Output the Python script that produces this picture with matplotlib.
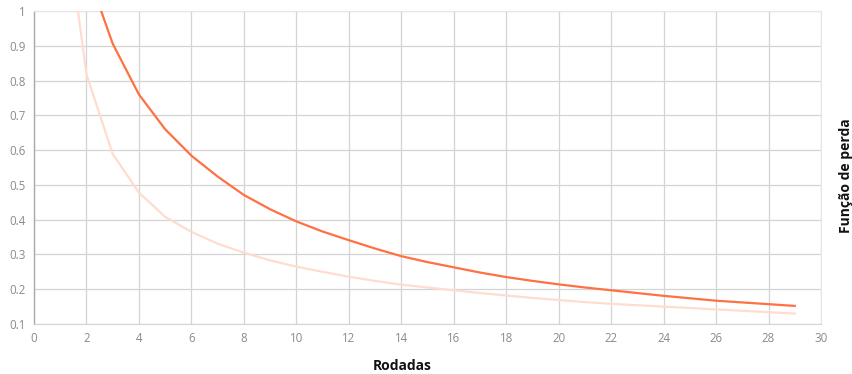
import matplotlib
matplotlib.use("Agg")
import matplotlib.pyplot as plt

# rounds and loss values
rodadas = list(range(1, 30))
perda_a = [1.45, 1.12, 0.906, 0.76, 0.66, 0.584, 0.524, 0.471, 0.43, 0.395,
           0.366, 0.341, 0.317, 0.295, 0.278, 0.263, 0.248, 0.235, 0.224, 0.214,
           0.205, 0.197, 0.189, 0.181, 0.174, 0.167, 0.162, 0.157, 0.152]
perda_b = [1.38, 0.818, 0.589, 0.478, 0.408, 0.365, 0.331, 0.305, 0.283, 0.265,
           0.25, 0.236, 0.224, 0.213, 0.205, 0.197, 0.189, 0.182, 0.175, 0.169,
           0.163, 0.158, 0.154, 0.15, 0.146, 0.142, 0.138, 0.134, 0.13]
xticks = list(range(0, 31, 2))
yticks = [0.1, 0.2, 0.3, 0.4, 0.5, 0.6, 0.7, 0.8, 0.9, 1]
ytick_labels = ["0.1", "0.2", "0.3", "0.4", "0.5", "0.6", "0.7", "0.8", "0.9", "1"]

plt.rcParams['font.family'] = ['Open Sans', 'DejaVu Sans']

fig = plt.figure(figsize=(8.53, 3.74), dpi=100)
ax = fig.add_axes([34 / 853, 1 - 324 / 374, (821 - 34) / 853, (324 - 11) / 374])

ax.plot(rodadas, perda_b, color='#ffdcd0', lw=1.6, zorder=3)
ax.plot(rodadas, perda_a, color='#ff7043', lw=1.6, zorder=4)

ax.set_xlim(0, 30)
ax.set_ylim(0.1, 1)
ax.set_xticks(xticks)
ax.set_xticklabels([str(t) for t in xticks])
ax.set_yticks(yticks)
ax.set_yticklabels(ytick_labels)
ax.tick_params(length=0, colors='#8a8a8a', labelsize=8.3)
ax.tick_params(axis='x', pad=6)
ax.tick_params(axis='y', pad=6)

ax.grid(True, color='#d4d4d4', lw=0.9)
ax.set_axisbelow(True)
for side in ['top', 'right', 'bottom']:
    ax.spines[side].set_color('#e6e6e6')
    ax.spines[side].set_linewidth(0.8)
ax.spines['bottom'].set_color('#d4d4d4')
ax.spines['left'].set_color('#aaaaaa')
ax.spines['left'].set_linewidth(1.0)

fig.text(402 / 853, 1 - 366 / 374, 'Rodadas', ha='center', va='center',
         fontsize=10, fontweight='bold', color='#111111')
fig.text(846 / 853, 1 - 176 / 374, 'Função de perda', ha='center', va='center',
         rotation=90, fontsize=10, fontweight='bold', color='#111111')

fig.savefig('out.png', dpi=100)
